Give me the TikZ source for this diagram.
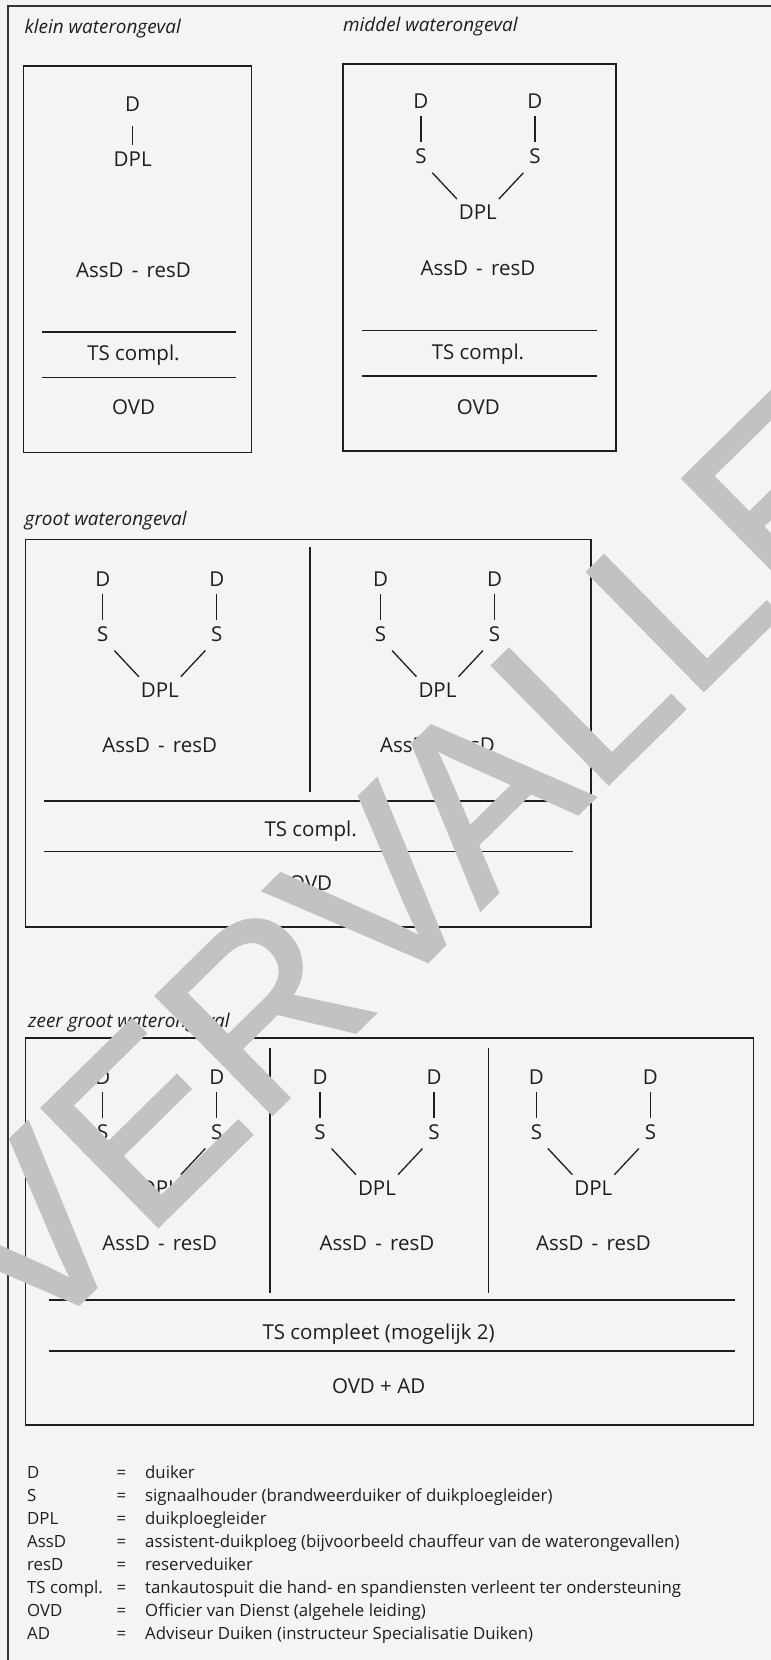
\documentclass[tikz,border=0pt]{standalone}
\usepackage{fontspec}
\setmainfont{Open Sans}
\newfontfamily\wmfont[RawFeature={embolden=1.5}]{Liberation Sans}
\usetikzlibrary{calc}
\definecolor{ink}{HTML}{1E1E1E}
\definecolor{paper}{HTML}{F4F4F4}
\definecolor{wmgrey}{RGB}{194,194,194}
\newcommand\dtxt{\fontsize{20.5}{24}\selectfont}
\newcommand\lgdtxt{\fontsize{16.8}{20}\selectfont}
\newcommand\ttltxt{\fontsize{18.9}{22}\selectfont\itshape}
\newcommand\assd{AssD\hspace{0.4em}-\hspace{0.4em}resD}
\newcommand\ddunit[3]{%
  \node[lbl] (#1P) at (#2,#3) {DPL};
  \node[lbl] (#1Da) at ({#2-57},{#3-111}) {D};
  \node[lbl] (#1Db) at ({#2+57},{#3-111}) {D};
  \node[lbl] (#1Sa) at ({#2-57},{#3-56}) {S};
  \node[lbl] (#1Sb) at ({#2+57},{#3-56}) {S};
  \node[lbl] (#1A) at (#2,{#3+55.5}) {\assd};
  \draw[conn] ($(#1Da)+(0,14.5)$) -- ($(#1Sa)+(0,-14)$);
  \draw[conn] ($(#1Db)+(0,14.5)$) -- ($(#1Sb)+(0,-14)$);
  \draw[conn] ($(#1Sa)+(11.5,16.5)$) -- ($(#1P)+(-21,-13.3)$);
  \draw[conn] ($(#1Sb)+(-11.5,16.5)$) -- ($(#1P)+(21,-13.3)$);
}
\begin{document}
\begin{tikzpicture}[x=1pt,y=-1pt,
  lbl/.style={inner sep=0pt, text height=14.6pt, text depth=0pt, font=\dtxt, text=ink},
  lgd/.style={inner sep=0pt, anchor=base west, font=\lgdtxt, text=ink},
  ttl/.style={inner sep=0pt, anchor=base west, font=\ttltxt, text=ink},
  conn/.style={draw=ink, line width=1.3pt},
  box/.style={draw=ink, line width=1.5pt},
  frame/.style={draw=ink!90, line width=2pt},
  wm/.style={inner sep=0pt, anchor=base west, text=wmgrey,
    font=\wmfont\fontsize{240}{240}\selectfont}]
\useasboundingbox (0,0) rectangle (771,1660);
\fill[paper] (0,0) rectangle (771,1660);
\draw[frame] (8,1670) -- (8,6) -- (780,6);

% titles
\node[ttl] (t1) at (24.5,33) {klein waterongeval};
\node[ttl] (t2) at (343,31.5) {middel waterongeval};
\node[ttl] (t3) at (24.5,525.5) {groot waterongeval};
\node[ttl] (t4) at (28,1027) {zeer groot waterongeval};

% klein
\draw[box] (23.5,66) rectangle (251.5,452.5);
\node[lbl] (kD) at (132.7,104) {D};
\node[lbl] (kP) at (132.7,159.3) {DPL};
\draw[conn] ($(kD)+(0,22)$) -- ($(kP)+(0,-14)$);
\node[lbl] (kA) at (133.5,270) {\assd};
\draw[box] (41.8,332) -- (236,332);
\node[lbl] (kT) at (133.5,353.5) {TS compl.};
\draw[box] (41.8,377.7) -- (236,377.7);
\node[lbl] (kO) at (133.5,407.5) {OVD};

% middel
\draw[box] (343,64) rectangle (616,451);
\ddunit{m}{477.9}{212.3}
\draw[box] (362,330.7) -- (597,330.7);
\node[lbl] (mT) at (478,352) {TS compl.};
\draw[box] (362,376) -- (597,376);
\node[lbl] (mO) at (478.3,407) {OVD};

% groot
\draw[box] (25.6,539.3) rectangle (591,927);
\draw[box] (310,547.3) -- (310,791.7);
\ddunit{ga}{159.8}{690}
\ddunit{gb}{437.5}{690}
\draw[box] (44.2,801) -- (572.8,801);
\node[lbl] (gT) at (310.7,829) {TS compl.};
\draw[box] (44.2,851.7) -- (572.8,851.7);
\node[lbl] (gO) at (310.7,883.3) {OVD};

% zeer groot
\draw[box] (25.6,1038) rectangle (753.7,1425);
\draw[box] (270,1048.3) -- (270,1292.7);
\draw[box] (488.3,1048.3) -- (488.3,1292.7);
\ddunit{za}{159.8}{1188}
\ddunit{zb}{377}{1188}
\ddunit{zc}{593.4}{1188}
\draw[box] (49.2,1300) -- (735,1300);
\node[lbl] (zT) at (378.6,1332.3) {TS compleet (mogelijk 2)};
\draw[box] (49.2,1351) -- (735,1351);
\node[lbl] (zO) at (378.6,1386) {OVD + AD};

% legend
\node[lgd] (l1a) at (27,1478.3) {D};
\node[lgd] (l1b) at (116.5,1478.3) {=};
\node[lgd] (l1c) at (145,1478.3) {duiker};
\node[lgd] (l2a) at (27,1501.3) {S};
\node[lgd] (l2b) at (116.5,1501.3) {=};
\node[lgd] (l2c) at (145,1501.3) {signaalhouder (brandweerduiker of duikploegleider)};
\node[lgd] (l3a) at (27,1524.3) {DPL};
\node[lgd] (l3b) at (116.5,1524.3) {=};
\node[lgd] (l3c) at (145,1524.3) {duikploegleider};
\node[lgd] (l4a) at (27,1547.3) {AssD};
\node[lgd] (l4b) at (116.5,1547.3) {=};
\node[lgd] (l4c) at (145,1547.3) {assistent-duikploeg (bijvoorbeeld chauffeur van de waterongevallen)};
\node[lgd] (l5a) at (27,1570.3) {resD};
\node[lgd] (l5b) at (116.5,1570.3) {=};
\node[lgd] (l5c) at (145,1570.3) {reserveduiker};
\node[lgd] (l6a) at (27,1593.3) {TS compl.};
\node[lgd] (l6b) at (116.5,1593.3) {=};
\node[lgd] (l6c) at (145,1593.3) {tankautospuit die hand- en spandiensten verleent ter ondersteuning};
\node[lgd] (l7a) at (27,1616.3) {OVD};
\node[lgd] (l7b) at (116.5,1616.3) {=};
\node[lgd] (l7c) at (145,1616.3) {Officier van Dienst (algehele leiding)};
\node[lgd] (l8a) at (27,1639.3) {AD};
\node[lgd] (l8b) at (116.5,1639.3) {=};
\node[lgd] (l8c) at (145,1639.3) {Adviseur Duiken (instructeur Specialisatie Duiken)};

% watermark
\begin{scope}
\clip (0,0) rectangle (771,1660);
\node[wm, rotate=44.5] (wmk) at (30,1352) {VERVALLEN};
\end{scope}
\end{tikzpicture}
\end{document}
